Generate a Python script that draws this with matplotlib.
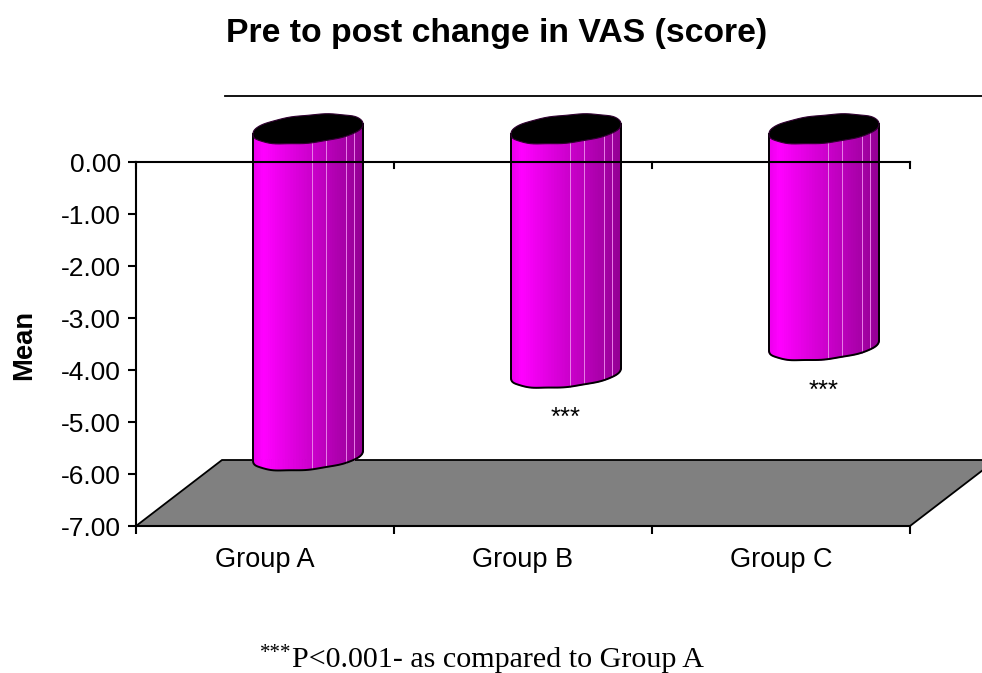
#!/usr/bin/env python

import numpy as np
import matplotlib
matplotlib.use('Agg')
import matplotlib.pyplot as plt
import matplotlib as mpl
mpl.rcParams['font.family'] = 'Liberation Sans'

categories = ['Group A', 'Group B', 'Group C']
means = [-6.28, -4.69, -4.16]
stars = ['', '***', '***']
yticks = [0, -1, -2, -3, -4, -5, -6, -7]

W, H = 982.0, 673.0
fig = plt.figure(figsize=(9.82, 6.73), dpi=100)
ax = fig.add_axes([136/W, 1-526/H, (910-136)/W, (526-162)/H])
ax.set_xlim(-0.5, 2.5)
ax.set_ylim(-7, 0)

# fake 3d depth in data units
depth_x = 86/258.0
depth_y = 66/52.0
rx = 55/258.0
ry = 14/52.0
tilt = 5/52.0

# floor and back wall line
ax.fill([-0.5, 2.5, 2.5+depth_x, -0.5+depth_x], [-7, -7, -7+depth_y, -7+depth_y],
        facecolor='#808080', edgecolor='black', lw=1.3, clip_on=False, zorder=1)
ax.plot([-0.5+depth_x+0.012, 2.5+depth_x], [depth_y, depth_y], color='black', lw=1.3, clip_on=False, zorder=1)

def ring(cy, a):
    # slightly bumpy ellipse, like the coarse facets of the original
    c = np.cos(a)
    s = np.sign(np.sin(a))*np.abs(np.sin(a))**0.85
    bump = 1 + 0.02*np.sin(9*a)
    return c, cy + (tilt*c - ry*s)*bump

n = 60
angles = np.linspace(np.pi, 0, n+1)
for i, val in enumerate(means):
    cx = i + depth_x/2
    top = depth_y/2
    bot = val + depth_y/2
    for k in range(n):
        c0, yb0 = ring(bot, angles[k])
        c1, yb1 = ring(bot, angles[k+1])
        _, yt0 = ring(top, angles[k])
        _, yt1 = ring(top, angles[k+1])
        frac = ((c0+c1)/2 + 1)/2
        if frac < 0.1:
            level = 0.92 + 0.08*frac/0.1
        else:
            level = 1.0 - 0.42*(frac-0.1)/0.9
        col = (level, 0, level)
        x0, x1 = cx + rx*c0, cx + rx*c1
        ax.fill([x0, x1, x1, x0], [yb0, yb1, yt1, yt0],
                facecolor=col, edgecolor=col, lw=0.8, clip_on=False, zorder=2)
    # light facet seams
    for sx in [0.535, 0.665, 0.845, 0.92]:
        xs = cx - rx + sx*2*rx
        t = np.arccos((xs-cx)/rx)
        ax.plot([xs, xs], [ring(bot, t)[1], top], color='#e880e8', lw=0.7,
                clip_on=False, zorder=3)
    # outline
    c, yb = ring(bot, angles)
    ax.plot(np.r_[cx-rx, cx + rx*c, cx+rx], np.r_[top-tilt, yb, top+tilt],
            color='black', lw=1.4, clip_on=False, zorder=3)
    # black top
    a = np.linspace(0, 2*np.pi, 81)
    c, yt = ring(top, a)
    ax.fill(cx + rx*c, yt, facecolor='black', edgecolor='#300030', lw=0.8,
            clip_on=False, zorder=4)
    if stars[i]:
        ax.text(cx, val + depth_y/2 - 0.87, stars[i], ha='center', va='center',
                fontsize=18.5, clip_on=False, zorder=5)

ax.spines['right'].set_visible(False)
for s in ['left', 'top', 'bottom']:
    ax.spines[s].set_linewidth(1.5)
    ax.spines[s].set_zorder(6)
ax.set_yticks(yticks)
ax.set_yticklabels(['%.2f' % v for v in yticks], fontsize=19)
ax.set_xticks([-0.5, 0.5, 1.5, 2.5])
ax.set_xticklabels([])
ax.set_xticks([0, 1, 2], minor=True)
ax.set_xticklabels(categories, minor=True, fontsize=19.5)
ax.tick_params(axis='x', which='minor', length=0, pad=15)
ax.tick_params(axis='x', which='major', length=6, width=1.5, direction='out')
ax.tick_params(axis='y', length=6, width=1.5, direction='out', pad=5)
# ticks on the zero line too
for x in [-0.5, 0.5, 1.5, 2.5]:
    ax.plot([x, x], [0, -6/52.0], color='black', lw=1.5, clip_on=False, zorder=6)

fig.text(24/W, 1-345/H, 'Mean', rotation=90, ha='center', va='center', fontsize=19.7, fontweight='bold')
fig.text(226/W, 1-42/H, 'Pre to post change in VAS (score)', ha='left', va='baseline',
         fontsize=24.3, fontweight='bold')
fig.text(260/W, 1-653/H, '***', ha='left', va='center', fontsize=15, family='Liberation Serif')
fig.text(292/W, 1-667/H, 'P<0.001- as compared to Group A', ha='left', va='baseline',
         fontsize=21.6, family='Liberation Serif')

plt.savefig('out.png', dpi=100)
